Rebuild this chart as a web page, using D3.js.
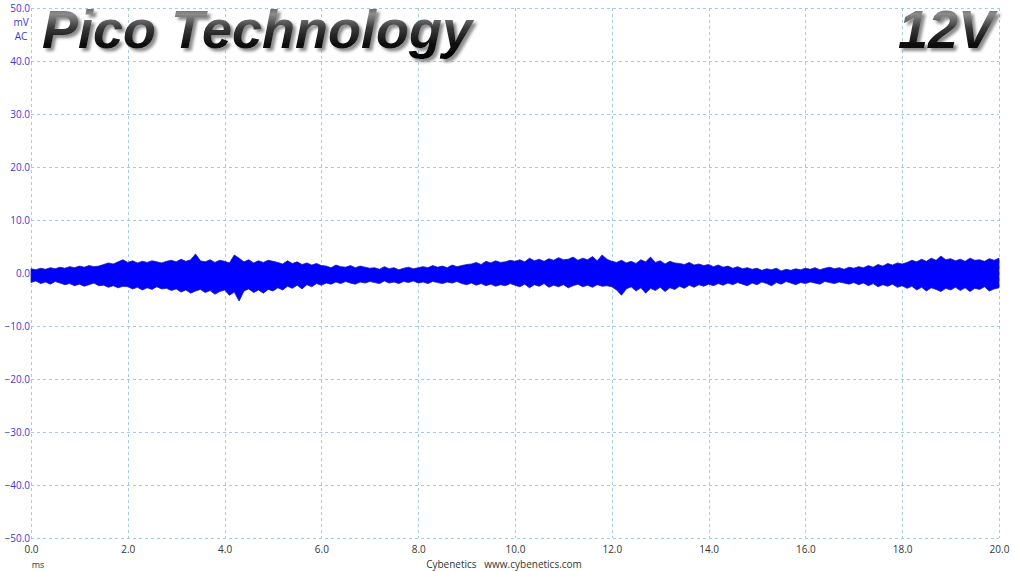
<!DOCTYPE html>
<html>
<head>
<meta charset="utf-8">
<script src="https://cdn.jsdelivr.net/npm/d3@7"></script>
<style>
  html, body { margin: 0; padding: 0; background: #ffffff; }
  svg { display: block; }
</style>
</head>
<body>
<svg id="chart" width="1015" height="571"></svg>
<script>
// ---- data (mV envelope of the ripple trace, sampled every 0.1 ms from 0 to 20 ms) ----
const timeStep = 0.1;
const upperEnvelope = [
  0.8,0.6,0.9,0.7,1.0,0.8,1.1,0.9,1.2,1.0,
  1.3,1.1,1.4,1.2,1.3,1.6,1.9,1.7,2.1,2.5,
  2.0,2.3,1.9,2.2,2.0,2.3,2.1,1.9,2.2,2.4,
  2.1,2.6,2.2,2.5,3.6,2.3,2.1,2.5,2.0,2.4,
  2.2,1.9,3.4,2.8,2.1,2.5,1.9,2.3,2.0,2.4,
  2.2,2.0,1.7,2.3,1.8,2.1,1.6,1.9,1.5,1.8,
  1.4,1.3,1.0,1.5,1.2,1.1,1.4,1.0,1.3,1.1,
  0.9,1.0,0.7,1.2,0.8,1.0,0.6,0.9,1.1,0.8,
  1.0,1.2,1.0,1.4,1.1,1.3,1.0,1.5,1.2,1.4,
  1.6,1.7,2.0,1.6,2.2,1.9,2.3,2.0,2.1,2.4,
  2.2,2.5,2.1,2.8,2.3,2.6,2.2,2.7,2.4,2.9,
  2.5,2.6,3.0,2.4,2.8,2.5,3.1,2.3,3.4,2.6,
  2.2,2.0,2.4,1.9,2.2,1.8,2.5,2.1,3.0,2.0,
  2.3,1.7,2.2,1.9,1.8,1.6,2.0,1.5,1.7,1.4,
  1.6,1.2,1.5,1.1,1.3,0.9,1.2,0.8,1.0,0.7,
  0.9,0.5,0.8,0.6,0.9,0.4,0.7,0.5,0.8,0.6,
  0.9,0.7,1.0,0.6,0.9,1.1,0.8,1.0,0.7,1.1,
  0.9,1.2,1.0,1.4,1.1,1.6,1.3,1.8,1.5,1.9,
  1.7,2.0,2.4,2.1,2.6,2.2,2.8,2.4,3.2,2.5,
  2.7,2.3,2.6,2.2,2.8,2.4,2.5,2.2,2.7,2.4,
  2.8
];
const lowerEnvelope = [
  -1.8,-1.5,-2.0,-1.7,-2.1,-1.6,-1.9,-2.2,-2.0,-2.4,
  -2.1,-2.5,-2.2,-1.9,-2.4,-2.3,-2.7,-2.4,-2.8,-2.5,
  -2.6,-3.0,-2.7,-3.2,-2.8,-3.1,-2.6,-3.0,-2.9,-3.3,
  -3.0,-3.6,-3.2,-3.8,-3.4,-3.1,-3.7,-3.3,-4.0,-3.5,
  -3.2,-4.2,-3.6,-5.3,-3.4,-3.0,-3.7,-3.2,-3.8,-3.1,
  -3.4,-2.8,-3.2,-2.5,-2.9,-2.3,-3.0,-2.2,-2.6,-2.0,
  -2.3,-1.9,-2.1,-1.7,-2.0,-1.6,-1.9,-2.1,-1.7,-1.9,
  -1.6,-1.8,-2.0,-1.5,-1.9,-1.7,-2.0,-1.6,-1.8,-1.5,
  -1.9,-1.7,-2.0,-1.6,-1.8,-2.0,-1.7,-1.9,-1.6,-2.0,
  -2.2,-1.9,-2.3,-2.0,-2.4,-2.1,-2.5,-2.2,-2.4,-2.0,
  -2.3,-2.6,-2.1,-2.8,-2.2,-2.5,-2.0,-2.7,-2.3,-2.6,
  -2.2,-2.8,-2.4,-2.1,-2.6,-2.3,-2.7,-2.2,-2.5,-2.4,
  -2.6,-3.2,-4.2,-3.0,-2.6,-3.4,-2.8,-3.8,-2.9,-3.3,
  -2.7,-3.5,-2.8,-3.1,-2.5,-2.9,-2.3,-2.7,-2.2,-2.5,
  -2.1,-2.4,-2.0,-2.3,-1.9,-2.2,-1.8,-2.1,-2.4,-1.9,
  -2.2,-1.7,-2.0,-2.4,-1.8,-2.1,-1.6,-1.9,-2.2,-1.8,
  -2.0,-1.7,-1.9,-2.1,-1.6,-1.8,-2.0,-1.7,-1.9,-2.1,
  -1.8,-2.2,-1.9,-2.4,-2.0,-2.6,-2.2,-2.5,-2.1,-2.7,
  -2.4,-2.9,-2.5,-3.2,-2.7,-3.4,-2.8,-3.1,-3.5,-2.9,
  -3.2,-2.7,-3.3,-2.8,-3.5,-2.9,-3.1,-2.6,-3.4,-3.0,
  -2.8
];
const xTicks = [0, 2, 4, 6, 8, 10, 12, 14, 16, 18, 20];
const yTicks = [50, 40, 30, 20, 10, 0, -10, -20, -30, -40, -50];
const titleText = "Pico Technology";
const railText = "12V";
const yUnitLabels = ["mV", "AC"];
const xUnitLabel = "ms";
const footerText = "Cybenetics   www.cybenetics.com";

// ---- drawing ----
const LABEL_FONT = '"Open Sans", "Noto Sans", sans-serif';
const TITLE_FONT = '"Liberation Sans", Arial, sans-serif';
const svg = d3.select("#chart");
svg.append("rect").attr("width", 1015).attr("height", 571).attr("fill", "#ffffff");

const x = d3.scaleLinear().domain([0, 20]).range([31, 999]);
const y = d3.scaleLinear().domain([-50, 50]).range([538, 8]);

const defs = svg.append("defs");
const grad = defs.append("linearGradient").attr("id", "metal")
  .attr("x1", 0).attr("y1", 0).attr("x2", 0).attr("y2", 1);
[["0%", "#2a2a2a"], ["25%", "#8c8c8c"], ["48%", "#3a3a3a"], ["78%", "#0a0a0a"], ["100%", "#000000"]]
  .forEach(([o, c]) => grad.append("stop").attr("offset", o).attr("stop-color", c));
const f = defs.append("filter").attr("id", "shadow")
  .attr("x", "-10%").attr("y", "-20%").attr("width", "130%").attr("height", "160%");
f.append("feDropShadow").attr("dx", 3).attr("dy", 3).attr("stdDeviation", 1.5)
  .attr("flood-color", "#707070").attr("flood-opacity", 0.8);

// grid
const grid = svg.append("g").attr("stroke", "#a6cbdc").attr("stroke-width", 1)
  .attr("stroke-dasharray", "3,3").attr("shape-rendering", "crispEdges");
grid.selectAll("line.h").data(yTicks).join("line").attr("class", "h")
  .attr("x1", x(0)).attr("x2", x(20))
  .attr("y1", d => Math.round(y(d)) + 0.5).attr("y2", d => Math.round(y(d)) + 0.5);
grid.selectAll("line.v").data(xTicks).join("line").attr("class", "v")
  .attr("y1", y(50)).attr("y2", y(-50))
  .attr("x1", d => Math.round(x(d)) + 0.5).attr("x2", d => Math.round(x(d)) + 0.5);

// y axis labels
const yAxis = d3.axisLeft(y).tickValues(yTicks).tickFormat(d3.format(".1f")).tickSize(0).tickPadding(0);
const gy = svg.append("g").attr("transform", "translate(30,0)").call(yAxis);
gy.select(".domain").remove();
gy.selectAll("text").attr("font-size", 10).attr("fill", "#3a3ad6").style("font-family", LABEL_FONT);

svg.selectAll("text.yunit").data(yUnitLabels).join("text").attr("class", "yunit")
  .attr("x", 21).attr("y", (d, i) => 26 + i * 14)
  .attr("text-anchor", "middle").attr("font-size", 10).attr("fill", "#3a3ad6")
  .style("font-family", LABEL_FONT).text(d => d);

// x axis labels
const xAxis = d3.axisBottom(x).tickValues(xTicks).tickFormat(d3.format(".1f")).tickSize(0).tickPadding(0);
const gx = svg.append("g").attr("transform", "translate(0,546)").call(xAxis);
gx.select(".domain").remove();
gx.selectAll("text").attr("font-size", 10).attr("fill", "#333333").style("font-family", LABEL_FONT);

svg.append("text").attr("x", 38).attr("y", 568).attr("text-anchor", "middle")
  .attr("font-size", 9).attr("fill", "#333333").style("font-family", LABEL_FONT).text(xUnitLabel);
svg.append("text").attr("x", 504).attr("y", 568).attr("text-anchor", "middle")
  .attr("font-size", 10).attr("fill", "#333333").style("font-family", LABEL_FONT)
  .style("white-space", "pre").text(footerText);

// trace
const series = upperEnvelope.map((u, i) => ({ t: i * timeStep, hi: u, lo: lowerEnvelope[i] }));
const area = d3.area().x(d => x(d.t)).y0(d => y(d.lo)).y1(d => y(d.hi));
svg.append("path").datum(series).attr("d", area)
  .attr("fill", "#0000ff").attr("stroke", "#1a1aa8").attr("stroke-width", 0.8)
  .attr("stroke-linejoin", "miter");

// titles
svg.append("text").attr("x", 42).attr("y", 48)
  .style("font-family", TITLE_FONT)
  .attr("font-weight", "bold").attr("font-style", "italic").attr("font-size", 54)
  .attr("fill", "url(#metal)").attr("filter", "url(#shadow)").text(titleText);
svg.append("text").attr("x", 994).attr("y", 48).attr("text-anchor", "end")
  .style("font-family", TITLE_FONT)
  .attr("font-weight", "bold").attr("font-style", "italic").attr("font-size", 54)
  .attr("fill", "url(#metal)").attr("filter", "url(#shadow)").text(railText);
</script>
</body>
</html>
